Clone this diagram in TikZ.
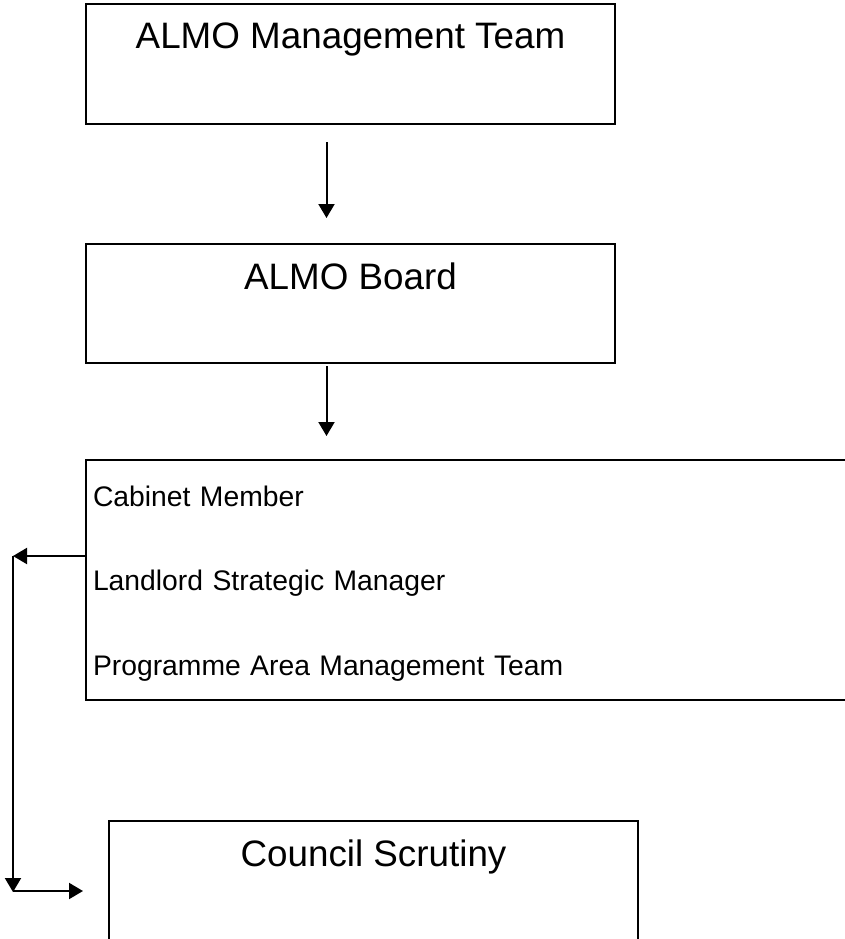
\documentclass[tikz,border=0pt]{standalone}
\usepackage{fontspec}
\setmainfont{Liberation Sans}
\usetikzlibrary{arrows.meta}

\begin{document}
\begin{tikzpicture}[x=1pt,y=-1pt,line width=2pt,
	box/.style={draw,anchor=north west,inner sep=0pt,minimum width=529pt,text height=45pt,
		font=\fontsize{36.8}{44}\selectfont},
	tip/.style={-{Triangle[length=14pt,width=16pt]}}]
	\clip (0,0) rectangle (845,939);
	\node[box,text depth=75pt] (mgmt) at (85,3) {ALMO Management Team};
	\node[box,text depth=74pt] (board) at (85,243) {ALMO Board};
	\node[box,align=left,inner xsep=7pt,text width=770pt,text height=46pt,text depth=194pt,
		font=\fontsize{28.3}{84.5}\selectfont] (council) at (85,459)
		{Cabinet Member\\Landlord Strategic Manager\\Programme Area Management Team};
	\node[box,text depth=100pt] (scrutiny) at (108,820) {Council Scrutiny};
	\coordinate (drop) at (board.south |- council.north);
	\coordinate (turn) at (13,556);
	\coordinate (foot) at (13,891);
	\path[tip]
	([xshift=-24pt,yshift=-17pt]mgmt.south) edge ([xshift=-24pt,yshift=25pt]board.north)
	([xshift=-24pt,yshift=-2pt]board.south) edge ([xshift=-24pt,yshift=23pt]drop)
	(council.west |- turn) edge (turn)
	(turn) edge ([yshift=-1pt]foot)
	(foot) edge ([xshift=-25pt]scrutiny.west |- foot);
\end{tikzpicture}
\end{document}
